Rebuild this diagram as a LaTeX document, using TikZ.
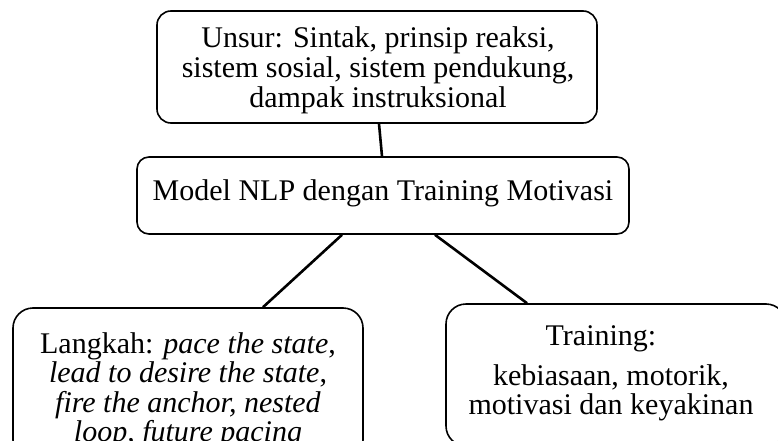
\documentclass[tikz,border=0pt]{standalone}
\usepackage{fontspec}
\setmainfont{Liberation Serif}
\begin{document}
\begin{tikzpicture}[x=1pt,y=-1pt,
  box/.style={draw, line width=1.6pt, rounded corners=14pt, inner sep=0pt},
  txt/.style={inner sep=0pt, align=center, anchor=base, font=\fontsize{30}{29.5}\selectfont},
  link/.style={line width=2.6pt}]
\clip (0,0) rectangle (778,441);
\fill[white] (0,0) rectangle (778,441);
% boxes
\node[box, minimum width=440pt, minimum height=112pt] (top) at (377,67) {};
\node[box, minimum width=492pt, minimum height=77pt, rounded corners=12pt] (mid) at (383,195.5) {};
\node[box, minimum width=350pt, minimum height=152pt, rounded corners=20pt] (left) at (188,384) {};
\node[box, minimum width=340pt, minimum height=142pt, rounded corners=20pt] (right) at (616,375) {};
% texts (anchor=base is the baseline of the last line)
\node[txt] (toptext) at (378,107) {Unsur: Sintak, prinsip reaksi,\\sistem sosial, sistem pendukung,\\dampak instruksional};
\node[txt] (midtext) at (383,200) {Model NLP dengan Training Motivasi};
\node[txt] (lefttext) at (188,441.5) {Langkah: \textit{pace the state},\\\textit{lead to desire the state},\\\textit{fire the anchor, nested}\\\textit{loop, future pacing}};
\node[txt] (righttitle) at (601,345) {Training:};
\node[txt] (righttext) at (611,414.5) {kebiasaan, motorik,\\motivasi dan keyakinan};
% connectors
\draw[link] ([xshift=2pt]top.south) -- ([xshift=-1pt]mid.north);
\draw[link] ([xshift=-41pt]mid.south) -- ([xshift=75pt]left.north);
\draw[link] ([xshift=52pt]mid.south) -- ([xshift=-89pt]right.north);
\end{tikzpicture}
\end{document}
